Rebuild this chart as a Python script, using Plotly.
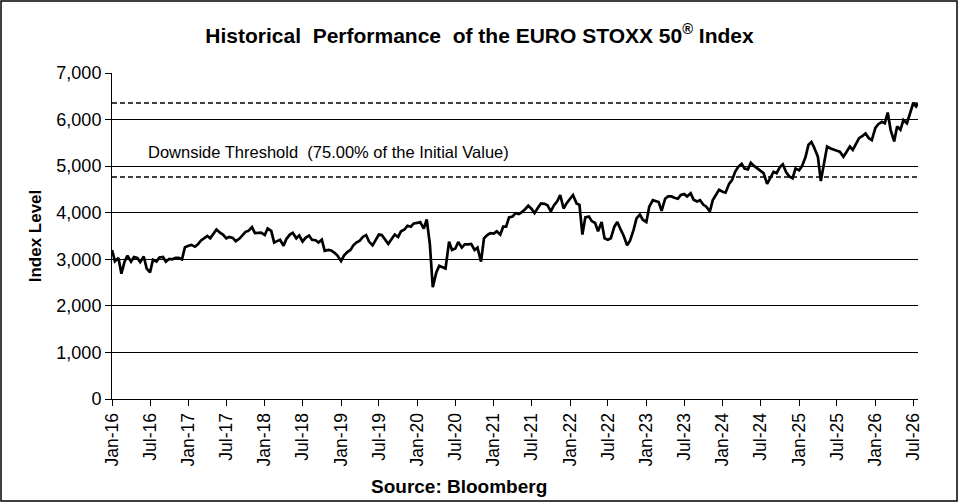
import pandas as pd
import plotly.graph_objects as go

# index level on the 1st and 15th of each month
levels_2016 = [3200, 2960, 3030, 2690, 2950, 3080, 2950, 3050, 3030, 2940, 3060, 2800,
               2720, 2990, 2950, 3040, 3050, 2950, 3010, 3000, 3030, 3030, 3000, 3260]
levels_2017 = [3290, 3310, 3270, 3320, 3400, 3440, 3500, 3450, 3560, 3640, 3570, 3530,
               3450, 3480, 3460, 3390, 3440, 3520, 3590, 3610, 3690, 3560, 3570, 3570]
levels_2018 = [3520, 3660, 3610, 3360, 3390, 3420, 3290, 3440, 3530, 3570, 3450, 3510,
               3380, 3460, 3510, 3420, 3410, 3360, 3420, 3180, 3200, 3190, 3140, 3080]
levels_2019 = [2960, 3080, 3160, 3200, 3300, 3360, 3400, 3480, 3520, 3380, 3300, 3400,
               3530, 3520, 3400, 3330, 3440, 3530, 3480, 3600, 3640, 3720, 3700, 3770]
levels_2020 = [3780, 3800, 3660, 3855, 3330, 2400, 2720, 2860, 2830, 2800, 3380, 3200,
               3230, 3370, 3250, 3320, 3320, 3330, 3200, 3250, 2950, 3450, 3520, 3560]
levels_2021 = [3550, 3600, 3530, 3700, 3700, 3900, 3920, 3990, 3970, 4010, 4080, 4150,
               4080, 3990, 4110, 4200, 4190, 4160, 4030, 4150, 4250, 4380, 4090, 4200]
levels_2022 = [4300, 4380, 4200, 4170, 3530, 3900, 3920, 3820, 3780, 3600, 3800, 3450,
               3420, 3450, 3700, 3800, 3630, 3500, 3300, 3400, 3630, 3880, 3960, 3850]
levels_2023 = [3800, 4130, 4270, 4250, 4230, 4040, 4300, 4350, 4350, 4320, 4300, 4380,
               4400, 4350, 4420, 4280, 4240, 4270, 4170, 4130, 4030, 4270, 4400, 4490]
levels_2024 = [4450, 4430, 4620, 4700, 4880, 4980, 5050, 4950, 4930, 5070, 5000, 4950,
               4900, 4850, 4620, 4750, 4880, 4850, 4980, 5040, 4860, 4780, 4740, 4950]
levels_2025 = [4910, 5000, 5200, 5460, 5520, 5390, 5200, 4680, 5060, 5420, 5380, 5350,
               5330, 5310, 5200, 5300, 5420, 5350, 5500, 5600, 5650, 5700, 5600, 5560]
levels_2026 = [5820, 5900, 5950, 5920, 6150, 5780, 5530, 5850, 5780, 5990, 5920, 6100,
               6350, 6280]
last_date = "2026-07-24"
last_level = 6356

initial_value = 6356
downside_threshold = 4767  # 75.00% of the initial value

levels = (levels_2016 + levels_2017 + levels_2018 + levels_2019 + levels_2020 + levels_2021
          + levels_2022 + levels_2023 + levels_2024 + levels_2025 + levels_2026)
dates = list(pd.date_range("2016-01-01", periods=len(levels), freq="SMS"))
dates.append(pd.Timestamp(last_date))
levels.append(last_level)

FONT = "Liberation Sans, Arial, sans-serif"

fig = go.Figure()
fig.add_trace(
    go.Scatter(
        x=dates,
        y=levels,
        mode="lines",
        line=dict(color="black", width=2.7),
        hoverinfo="skip",
    )
)

# initial value and downside threshold
for level in [initial_value, downside_threshold]:
    fig.add_shape(
        type="line",
        xref="paper",
        yref="y",
        x0=0,
        x1=1,
        y0=level,
        y1=level,
        line=dict(color="black", width=1.6, dash="5px,3px"),
    )

fig.add_annotation(
    text="Downside Threshold  (75.00% of the Initial Value)",
    xref="paper",
    yref="y",
    x=0.042,
    y=5300,
    xanchor="left",
    yanchor="middle",
    showarrow=False,
    font=dict(family=FONT, size=16.5, color="black"),
)

fig.add_annotation(
    text="<b>Source: Bloomberg</b>",
    xref="paper",
    yref="paper",
    x=0.43,
    y=-0.267,
    xanchor="center",
    yanchor="middle",
    showarrow=False,
    font=dict(family=FONT, size=19, color="black"),
)

# outer frame around the whole picture
fig.add_shape(
    type="rect",
    xref="paper",
    yref="paper",
    x0=-0.1377,
    x1=1.0484,
    y0=-0.3129,
    y1=1.2209,
    line=dict(color="black", width=1.5),
)

fig.update_xaxes(
    type="date",
    range=["2016-01-01", last_date],
    tick0="2016-01-01",
    dtick="M6",
    tickformat="%b-%y",
    tickangle=-90,
    ticks="outside",
    ticklen=6,
    tickcolor="black",
    showline=True,
    linecolor="black",
    linewidth=1,
    showgrid=False,
    tickfont=dict(family=FONT, size=17.5, color="black"),
)
fig.update_yaxes(
    range=[0, 7000],
    dtick=1000,
    tickformat=",d",
    ticks="outside",
    ticklen=6,
    tickcolor="black",
    showline=True,
    linecolor="black",
    linewidth=1,
    showgrid=True,
    gridcolor="black",
    gridwidth=1,
    zeroline=False,
    tickfont=dict(family=FONT, size=18, color="black"),
    title=dict(
        text="<b>Index Level</b>",
        font=dict(family=FONT, size=17, color="black"),
        standoff=10,
    ),
)

fig.update_layout(
    width=959,
    height=503,
    margin=dict(l=112, r=41, t=73, b=104),
    paper_bgcolor="white",
    plot_bgcolor="white",
    showlegend=False,
    title=dict(
        text="<b>Historical  Performance  of the EURO STOXX 50<sup>®</sup> Index</b>",
        x=0.5,
        xanchor="center",
        y=0.93,
        yanchor="middle",
        font=dict(family=FONT, size=21, color="black"),
    ),
)

# the page has a default body margin; drop it so the figure sits at the top left corner
fig.write_html(
    "out.html",
    config={"displayModeBar": False},
    post_script="document.body.style.margin = '0';",
)
